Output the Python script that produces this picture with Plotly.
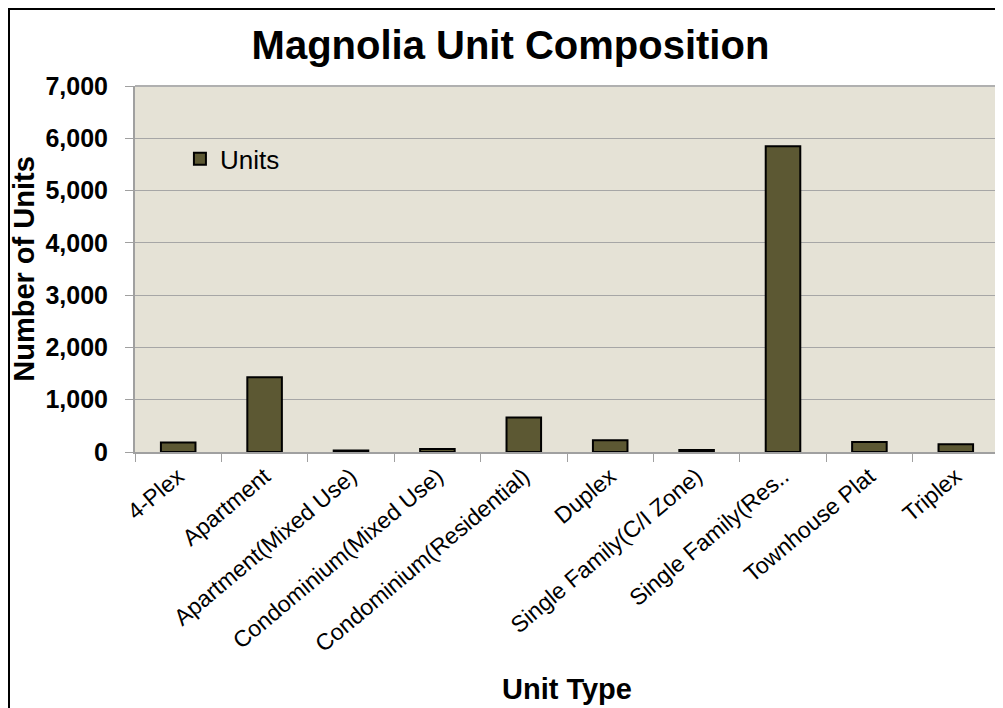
import plotly.graph_objects as go

categories = ["4-Plex", "Apartment", "Apartment(Mixed Use)", "Condominium(Mixed Use)",
              "Condominium(Residential)", "Duplex", "Single Family(C/I Zone)",
              "Single Family(Res..", "Townhouse Plat", "Triplex"]
units = [180, 1430, 30, 55, 660, 225, 40, 5850, 190, 150]
y_ticks = [0, 1000, 2000, 3000, 4000, 5000, 6000, 7000]

FONT = "Liberation Sans, Arial, sans-serif"

# figure-space geometry (page body has an 8px margin)
W, H = 995, 700
L, R, T, B = 127, 4, 78, 256
PW, PH = W - L - R, H - T - B

fig = go.Figure()
fig.add_trace(go.Bar(
    x=categories, y=units, name="Units",
    marker=dict(color="#5c5833", line=dict(color="#000000", width=2)),
    width=0.4,
))

fig.update_layout(
    width=W, height=H,
    margin=dict(l=L, r=R, t=T, b=B, autoexpand=False),
    paper_bgcolor="white",
    plot_bgcolor="#e5e2d6",
    font=dict(family=FONT, color="black"),
    title=dict(text="<b>Magnolia Unit Composition</b>", x=0.505, xanchor="center",
               y=1 - 37 / H, yanchor="middle", yref="container",
               font=dict(size=40, family=FONT, color="black")),
    showlegend=True,
    legend=dict(x=0.052, y=0.865, xanchor="left", yanchor="top",
                bgcolor="rgba(0,0,0,0)", font=dict(size=26, family=FONT),
                itemwidth=30),
    bargap=0.6,
)

fig.update_xaxes(
    type="category", tickangle=-40, tickson="boundaries",
    ticks="outside", ticklen=8, tickcolor="#a0a0a0",
    showline=True, linecolor="#a0a0a0", linewidth=2,
    tickfont=dict(size=23, family=FONT),
    showgrid=False,
)
fig.update_yaxes(
    range=[0, 7000], tickvals=y_ticks, tickformat=",",
    ticks="outside", ticklen=8, tickcolor="#a0a0a0",
    showline=True, linecolor="#a0a0a0", linewidth=2,
    gridcolor="#a6a6a6", gridwidth=1,
    tickfont=dict(size=25, family=FONT, weight="bold"),
    ticklabelstandoff=12,
    title=dict(text="<b>Number of Units</b>", font=dict(size=29, family=FONT), standoff=2),
    zeroline=False,
)

# x axis title
fig.add_annotation(text="<b>Unit Type</b>", xref="paper", yref="paper",
                   x=0.5, y=(PH - (681 - T)) / PH, xanchor="center", yanchor="middle",
                   showarrow=False, font=dict(size=29, family=FONT, color="black"))

# top border of plot area
fig.add_shape(type="line", xref="paper", yref="paper", x0=0, x1=1, y0=1, y1=1,
              line=dict(color="#b0b0b0", width=2))
# outer chart frame
fig.add_shape(type="rect", xref="paper", yref="paper",
              x0=(1 - L) / PW, x1=(W + 10 - L) / PW,
              y0=(PH - (H + 10 - T)) / PH, y1=(PH - (1 - T)) / PH,
              line=dict(color="black", width=2), fillcolor="rgba(0,0,0,0)", layer="above")

fig.write_html("out.html")
